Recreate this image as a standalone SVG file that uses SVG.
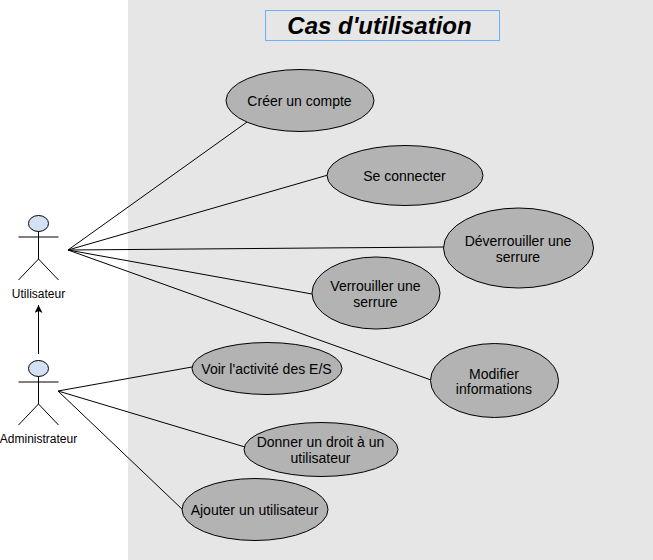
<svg xmlns="http://www.w3.org/2000/svg" width="653" height="560" viewBox="0 0 653 560">
<style>
text{font-family:"Liberation Sans",Arial,sans-serif;fill:#000;text-anchor:middle}
.uc ellipse{fill:#b3b3b3;stroke:#000;stroke-width:1}
.uc text{font-size:14px}
.actor ellipse{fill:#d4e1f5;stroke:#000;stroke-width:1}
.actor path{fill:none;stroke:#000;stroke-width:1}
.actor text{font-size:12px}
#connectors path{fill:none;stroke:#000;stroke-width:1}
</style>
<defs><marker id="arrow" markerUnits="userSpaceOnUse" markerWidth="10" markerHeight="10" refX="8" refY="4" orient="auto"><path d="M0 0L8 4L0 8L2 4Z" fill="#000"/></marker></defs>
<rect width="653" height="560" fill="#fff"/>
<rect x="128" y="0" width="525" height="560" fill="#e6e6e6"/>
<g id="title"><rect x="265.500" y="10.500" width="234" height="30" fill="none" stroke="#66b2ff"/><text x="379.500" y="33.500" font-size="24" font-weight="bold" font-style="italic">Cas d'utilisation</text></g>
<g id="connectors">
<path d="M68 250L247 122"/><path d="M68 250L328 175"/><path d="M68 250L444 247"/><path d="M68 250L312 294"/><path d="M68 250L431 380"/>
<path d="M58 391L192 367"/><path d="M58 391L245 447"/><path d="M58 391L183 510"/>
<path d="M38.500 354L38.500 305" marker-end="url(#arrow)"/>
</g>
<g id="actor-utilisateur" class="actor"><ellipse cx="38.500" cy="223.500" rx="10" ry="8"/><path d="M38.500 231.500V259M18.500 237H58.500M38.500 259L18.500 280M38.500 259L58.500 280"/><text x="38.500" y="298">Utilisateur</text></g>
<g id="actor-administrateur" class="actor"><ellipse cx="38.500" cy="368.500" rx="10" ry="8"/><path d="M38.500 376.500V404M18.500 382H58.500M38.500 404L18.500 425M38.500 404L58.500 425"/><text x="38.500" y="443">Administrateur</text></g>
<g id="uc-creer" class="uc"><ellipse cx="300" cy="100.500" rx="74" ry="31"/><text x="299.500" y="105.500">Créer un compte</text></g>
<g id="uc-connecter" class="uc"><ellipse cx="405" cy="175.500" rx="78" ry="30"/><text x="404.500" y="180.500">Se connecter</text></g>
<g id="uc-deverrouiller" class="uc"><ellipse cx="518.500" cy="248" rx="75" ry="40"/><text x="518" y="246">Déverrouiller une</text><text x="518" y="262">serrure</text></g>
<g id="uc-verrouiller" class="uc"><ellipse cx="376" cy="293" rx="64" ry="36"/><text x="375.500" y="291">Verrouiller une</text><text x="375.500" y="307">serrure</text></g>
<g id="uc-modifier" class="uc"><ellipse cx="494.500" cy="380.500" rx="64" ry="37"/><text x="494" y="379">Modifier</text><text x="494" y="394">informations</text></g>
<g id="uc-voir" class="uc"><ellipse cx="267" cy="368.500" rx="75" ry="26"/><text x="266.500" y="373.500">Voir l'activité des E/S</text></g>
<g id="uc-donner" class="uc"><ellipse cx="321" cy="449.500" rx="77" ry="27"/><text x="320.500" y="447">Donner un droit à un</text><text x="320.500" y="463">utilisateur</text></g>
<g id="uc-ajouter" class="uc"><ellipse cx="255" cy="509.500" rx="73" ry="31"/><text x="254.500" y="514.500">Ajouter un utilisateur</text></g>
</svg>
